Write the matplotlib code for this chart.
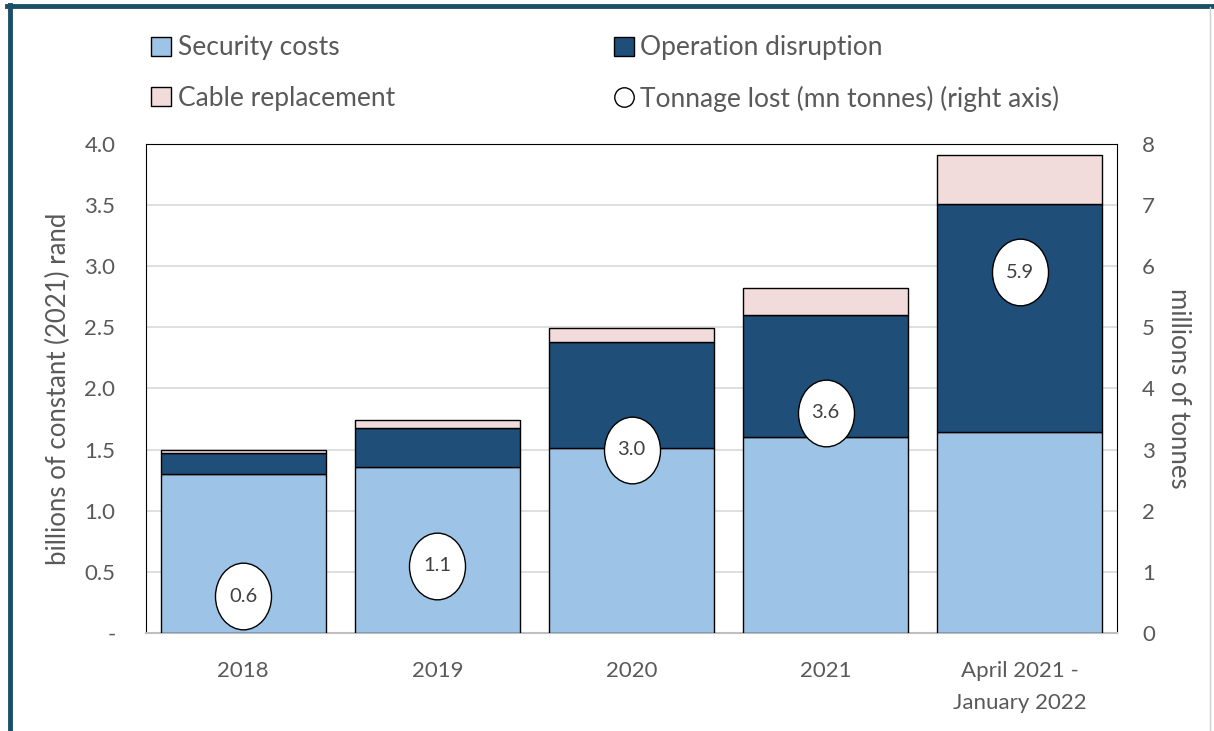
import numpy as np
import matplotlib.pyplot as plt
from matplotlib.patches import Patch
from matplotlib.lines import Line2D
from matplotlib.path import Path

plt.rcParams['font.family'] = ['Lato', 'DejaVu Sans']

# Datos
categorias = ['2018', '2019', '2020', '2021', 'April 2021 -\nJanuary 2022']
security = [1.30, 1.36, 1.51, 1.60, 1.64]
operation = [0.17, 0.32, 0.87, 1.00, 1.87]
cable = [0.03, 0.065, 0.115, 0.22, 0.40]
tonnage = [0.6, 1.1, 3.0, 3.6, 5.9]
tonnage_labels = ['0.6', '1.1', '3.0', '3.6', '5.9']

c_sec = '#9DC3E6'
c_op = '#1F4E79'
c_cab = '#F2DCDB'
gris = '#595959'

fig = plt.figure(figsize=(12.14, 7.31), dpi=100)
ax = fig.add_axes([0.1203, 0.1341, 0.7998, 0.6689])
ax2 = ax.twinx()

x = np.arange(len(categorias))
ancho = 0.85
sec = np.array(security)
op = np.array(operation)
cab = np.array(cable)
ax.bar(x, sec, ancho, color=c_sec, edgecolor='black', linewidth=1, zorder=3)
ax.bar(x, op, ancho, bottom=sec, color=c_op, edgecolor='black', linewidth=1, zorder=3)
ax.bar(x, cab, ancho, bottom=sec + op, color=c_cab, edgecolor='black', linewidth=1, zorder=3)

ax.set_xlim(-0.5, len(categorias) - 0.5)
ax.set_ylim(0, 4)
ax.set_yticks(np.arange(0, 4.01, 0.5))
ax.set_yticklabels(['-'] + [f'{v:.1f}' for v in np.arange(0.5, 4.01, 0.5)])
ax.set_xticks(x)
ax.set_xticklabels(categorias, linespacing=1.75)
ax.grid(axis='y', color='#d9d9d9', linewidth=1.2, zorder=0)
ax.set_axisbelow(True)
ax.tick_params(axis='y', length=0, labelsize=16, colors=gris, pad=22)
ax.tick_params(axis='x', length=0, labelsize=16, colors=gris, pad=20)
ax.set_ylabel('billions of constant (2021) rand', fontsize=18.5, color=gris, labelpad=10)

for s in ['left', 'top', 'right']:
    ax.spines[s].set_color('black')
    ax.spines[s].set_linewidth(0.8)
ax.spines['bottom'].set_color('#bfbfbf')
ax.spines['bottom'].set_linewidth(1.5)

# Marcador eliptico para el tonelaje
circ = Path.unit_circle()
elipse = Path(circ.vertices * np.array([1.0, 1.19]), circ.codes)

ax2.set_ylim(0, 8)
ax2.set_yticks(range(0, 9))
ax2.plot(x, tonnage, linestyle='none', marker=elipse, markersize=48,
         markerfacecolor='white', markeredgecolor='black', markeredgewidth=1, zorder=5)
for xi, yi, t in zip(x, tonnage, tonnage_labels):
    ax2.text(xi, yi, t, ha='center', va='center', fontsize=14.5, color='#404040', zorder=6)
ax2.tick_params(axis='y', length=0, labelsize=16, colors=gris, pad=18)
ax2.set_ylabel('millions of tonnes', fontsize=18.5, color=gris, rotation=270, labelpad=26)
for s in ax2.spines.values():
    s.set_visible(False)

# Leyenda
handles = [
    Patch(facecolor=c_sec, edgecolor='black', linewidth=1),
    Patch(facecolor=c_cab, edgecolor='black', linewidth=1),
    Patch(facecolor=c_op, edgecolor='black', linewidth=1),
    Line2D([], [], linestyle='none', marker='o', markersize=14,
           markerfacecolor='white', markeredgecolor='black'),
]
labels = ['Security costs', 'Cable replacement', 'Operation disruption',
          'Tonnage lost (mn tonnes) (right axis)']
leg = fig.legend(handles, labels, ncol=2, loc='upper left', bbox_to_anchor=(0.105, 0.984),
                 frameon=False, fontsize=19, handlelength=0.75, handleheight=0.75,
                 handletextpad=0.25, columnspacing=8.3, labelspacing=0.95)
for t in leg.get_texts():
    t.set_color(gris)

# Marco exterior
fig.add_artist(Line2D([0.006, 1.0], [0.9915, 0.9915], color='#1B4F66', linewidth=3.5,
                      transform=fig.transFigure))
fig.add_artist(Line2D([0.008, 0.008], [0.0, 0.9935], color='#1B4F66', linewidth=3.5,
                      transform=fig.transFigure))
fig.add_artist(Line2D([0.9965, 0.9965], [0.0, 0.99], color='#d0d0d0', linewidth=1,
                      transform=fig.transFigure))

fig.savefig('out.png', dpi=100)
